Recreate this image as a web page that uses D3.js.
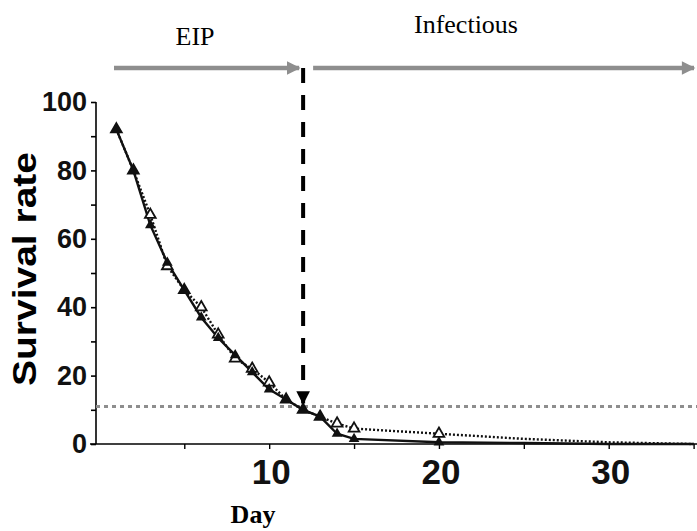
<!DOCTYPE html>
<html>
<head>
<meta charset="utf-8">
<script src="https://cdn.jsdelivr.net/npm/d3@7"></script>
<style>
  html, body { margin: 0; padding: 0; background: #fff; }
  svg { display: block; }
</style>
</head>
<body>
<svg id="chart" width="697" height="531"></svg>
<script>
// survival curves
const days = [1, 2, 3, 4, 5, 6, 7, 8, 9, 10, 11, 12, 13, 14, 15, 20, 25, 30, 35];
const solidSeries = [92, 80, 64, 53, 45, 37, 31, 26, 21, 16, 13, 10, 8, 3, 1.5, 0.5, 0.3, 0, 0];
const dottedSeries = [92, 80, 67, 52, 45, 40, 32, 25, 22, 18, 13, 10, 8, 6, 4.5, 3, 1.5, 0.5, 0];
const yTicks = [0, 10, 20, 30, 40, 50, 60, 70, 80, 90, 100];
const xTicks = [5, 10, 15, 20, 25, 30, 35];
const xLabels = [10, 20, 30];
const eipEnd = 12;       // day the EIP ends
const threshold = 11;    // grey dotted reference level

const svg = d3.select("#chart");
const x = d3.scaleLinear().domain([-0.2, 35.2]).range([96, 697]);
const y = d3.scaleLinear().domain([0, 100]).range([444, 102]);

const defs = svg.append("defs");
defs.append("marker")
  .attr("id", "greyHead")
  .attr("viewBox", "0 0 10 10")
  .attr("refX", 9).attr("refY", 5)
  .attr("markerWidth", 3.4).attr("markerHeight", 3)
  .attr("markerUnits", "strokeWidth")
  .attr("orient", "auto")
  .append("path").attr("d", "M0,0 L10,5 L0,10 Z").attr("fill", "#8e8e8e");
defs.append("marker")
  .attr("id", "blackHead")
  .attr("viewBox", "0 0 10 10")
  .attr("refX", 9).attr("refY", 5)
  .attr("markerWidth", 4).attr("markerHeight", 3.4)
  .attr("markerUnits", "strokeWidth")
  .attr("orient", "auto")
  .append("path").attr("d", "M0,0 L10,5 L0,10 Z").attr("fill", "#000");

// y axis
const yAxis = svg.append("g")
  .attr("transform", `translate(${x(-0.2)},0)`)
  .call(d3.axisLeft(y).tickValues(yTicks).tickSize(5)
    .tickFormat(d => (d % 20 === 0 ? d : "")));
yAxis.select(".domain").attr("stroke", "#000").attr("stroke-width", 1.6)
  .attr("d", `M0,${y(100)}V${y(0)}`);
yAxis.selectAll(".tick line").attr("stroke", "#000").attr("stroke-width", 1.6);
yAxis.selectAll(".tick text")
  .attr("x", -9)
  .style("font-family", "'Liberation Sans', Arial, sans-serif")
  .style("font-weight", "bold")
  .style("font-size", "27px")
  .attr("fill", "#111");

// x axis
const xAxis = svg.append("g")
  .attr("transform", `translate(0,${y(0)})`)
  .call(d3.axisBottom(x).tickValues(xTicks).tickSize(5).tickFormat(""));
xAxis.select(".domain").attr("stroke", "#000").attr("stroke-width", 1.6)
  .attr("d", `M${x(-0.2) - 6},0H${x(35.2)}`);
xAxis.selectAll(".tick line").attr("stroke", "#000").attr("stroke-width", 1.4);

svg.append("g").selectAll("text")
  .data(xLabels)
  .join("text")
  .attr("x", d => x(d) + 2)
  .attr("y", 484)
  .attr("text-anchor", "middle")
  .style("font-family", "'Liberation Sans Narrow', 'Liberation Sans', Arial, sans-serif")
  .style("font-weight", "bold")
  .style("font-size", "35px")
  .attr("fill", "#111")
  .text(d => d);

// axis titles
svg.append("text")
  .attr("transform", "translate(36,269) rotate(-90)")
  .attr("text-anchor", "middle")
  .attr("textLength", 234)
  .attr("lengthAdjust", "spacingAndGlyphs")
  .style("font-family", "'Liberation Sans', Arial, sans-serif")
  .style("font-weight", "bold")
  .style("font-size", "33px")
  .text("Survival rate");

svg.append("text")
  .attr("x", 253).attr("y", 523)
  .attr("text-anchor", "middle")
  .style("font-family", "'Liberation Serif', 'Times New Roman', serif")
  .style("font-weight", "bold")
  .style("font-size", "26px")
  .text("Day");

// grey dotted threshold
svg.append("line")
  .attr("x1", x(-0.2)).attr("x2", x(35.2))
  .attr("y1", y(threshold)).attr("y2", y(threshold))
  .attr("stroke", "#8e8e8e").attr("stroke-width", 3)
  .attr("stroke-dasharray", "4,4");

// data lines
const line = d3.line().x((d, i) => x(days[i])).y(d => y(d));
svg.append("path").datum(dottedSeries)
  .attr("d", line).attr("fill", "none")
  .attr("stroke", "#111").attr("stroke-width", 2.4)
  .attr("stroke-dasharray", "2,2");
svg.append("path").datum(solidSeries)
  .attr("d", line).attr("fill", "none")
  .attr("stroke", "#111").attr("stroke-width", 2.4);

const tri = d3.symbol().type(d3.symbolTriangle).size(50);
svg.append("g").selectAll("path")
  .data(dottedSeries.slice(0, 16))
  .join("path")
  .attr("transform", (d, i) => `translate(${x(days[i])},${y(d)})`)
  .attr("d", tri)
  .attr("fill", "#fff").attr("stroke", "#111").attr("stroke-width", 1.8);
svg.append("g").selectAll("path")
  .data(solidSeries.slice(0, 16))
  .join("path")
  .attr("transform", (d, i) => `translate(${x(days[i])},${y(d)})`)
  .attr("d", tri)
  .attr("fill", "#111");

// EIP / infectious arrows
svg.append("line")
  .attr("x1", 114).attr("x2", x(eipEnd) - 4)
  .attr("y1", 68).attr("y2", 68)
  .attr("stroke", "#8e8e8e").attr("stroke-width", 4.5)
  .attr("marker-end", "url(#greyHead)");
svg.append("line")
  .attr("x1", x(eipEnd) + 10).attr("x2", 694)
  .attr("y1", 68).attr("y2", 68)
  .attr("stroke", "#8e8e8e").attr("stroke-width", 4.5)
  .attr("marker-end", "url(#greyHead)");

svg.append("line")
  .attr("x1", x(eipEnd)).attr("x2", x(eipEnd))
  .attr("y1", 68).attr("y2", y(threshold) - 3)
  .attr("stroke", "#000").attr("stroke-width", 4)
  .attr("stroke-dasharray", "15,12")
  .attr("marker-end", "url(#blackHead)");

svg.append("text")
  .attr("x", 195).attr("y", 45)
  .attr("text-anchor", "middle")
  .style("font-family", "'Liberation Serif', 'Times New Roman', serif")
  .style("font-size", "26px")
  .text("EIP");
svg.append("text")
  .attr("x", 466).attr("y", 33)
  .attr("text-anchor", "middle")
  .style("font-family", "'Liberation Serif', 'Times New Roman', serif")
  .style("font-size", "26px")
  .text("Infectious");
</script>
</body>
</html>
